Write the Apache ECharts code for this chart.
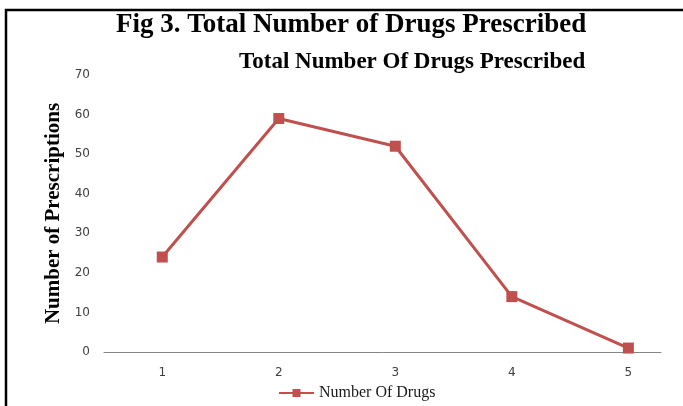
<!DOCTYPE html>
<html>
<head>
<meta charset="utf-8">
<script src="https://cdn.jsdelivr.net/npm/echarts@6/dist/echarts.min.js"></script>
<style>
  html, body { margin: 0; padding: 0; background: #fff; }
  #chart { width: 683px; height: 406px; }
</style>
</head>
<body>
<div id="chart"></div>
<script>
// data
const categories = ['1', '2', '3', '4', '5'];
const prescriptions = [24, 59, 52, 14, 1];
const yTicks = [0, 10, 20, 30, 40, 50, 60, 70];

const seriesData = categories.map((c, i) => [Number(c), prescriptions[i]]);

const chart = echarts.init(document.getElementById('chart'));
const option = {
	backgroundColor: '#fff',
	animation: false,
	title: [
		{
			text: 'Fig 3. Total Number of Drugs Prescribed',
			left: 111,
			top: 7,
			textStyle: { fontFamily: 'Liberation Serif', fontWeight: 'bold', fontSize: 27, color: '#000' }
		},
		{
			text: 'Total Number Of Drugs Prescribed',
			left: 234,
			top: 46,
			textStyle: { fontFamily: 'Liberation Serif', fontWeight: 'bold', fontSize: 23, color: '#000' }
		}
	],
	legend: {
		left: 273,
		top: 380,
		itemWidth: 35,
		itemHeight: 10,
		itemGap: 4,
		textStyle: { fontFamily: 'Liberation Serif', fontSize: 16, color: '#1a1a1a' },
		data: ['Number Of Drugs']
	},
	grid: { left: 104, right: 22, top: 75, bottom: 54 },
	xAxis: {
		type: 'value',
		min: 0.5,
		max: 5.28,
		interval: 0.5,
		splitLine: { show: false },
		axisTick: { show: false },
		axisLine: { show: true, lineStyle: { color: '#868686', width: 1 } },
		axisLabel: {
			margin: 15,
			color: '#404040',
			fontFamily: 'DejaVu Sans',
			fontSize: 12,
			showMaxLabel: false,
			formatter: v => categories.includes(String(v)) ? String(v) : ''
		}
	},
	yAxis: {
		type: 'value',
		min: yTicks[0],
		max: yTicks[yTicks.length - 1],
		interval: 10,
		name: 'Number of Prescriptions',
		nameLocation: 'middle',
		nameRotate: 90,
		nameGap: 38,
		nameTextStyle: { fontFamily: 'Liberation Serif', fontWeight: 'bold', fontSize: 21, color: '#000' },
		splitLine: { show: false },
		axisTick: { show: false },
		axisLine: { show: false },
		axisLabel: { margin: 14, color: '#404040', fontFamily: 'DejaVu Sans', fontSize: 12 }
	},
	graphic: [
		{
			type: 'polyline',
			shape: { points: [[6, 406], [6, 10], [683, 10]] },
			style: { stroke: '#000', lineWidth: 2.5, fill: null }
		}
	],
	series: [
		{
			name: 'Number Of Drugs',
			type: 'line',
			data: seriesData,
			symbol: 'rect',
			symbolSize: 11,
			lineStyle: { color: '#C0504D', width: 3 },
			itemStyle: { color: '#C0504D' }
		}
	]
};
chart.setOption(option);
</script>
</body>
</html>
